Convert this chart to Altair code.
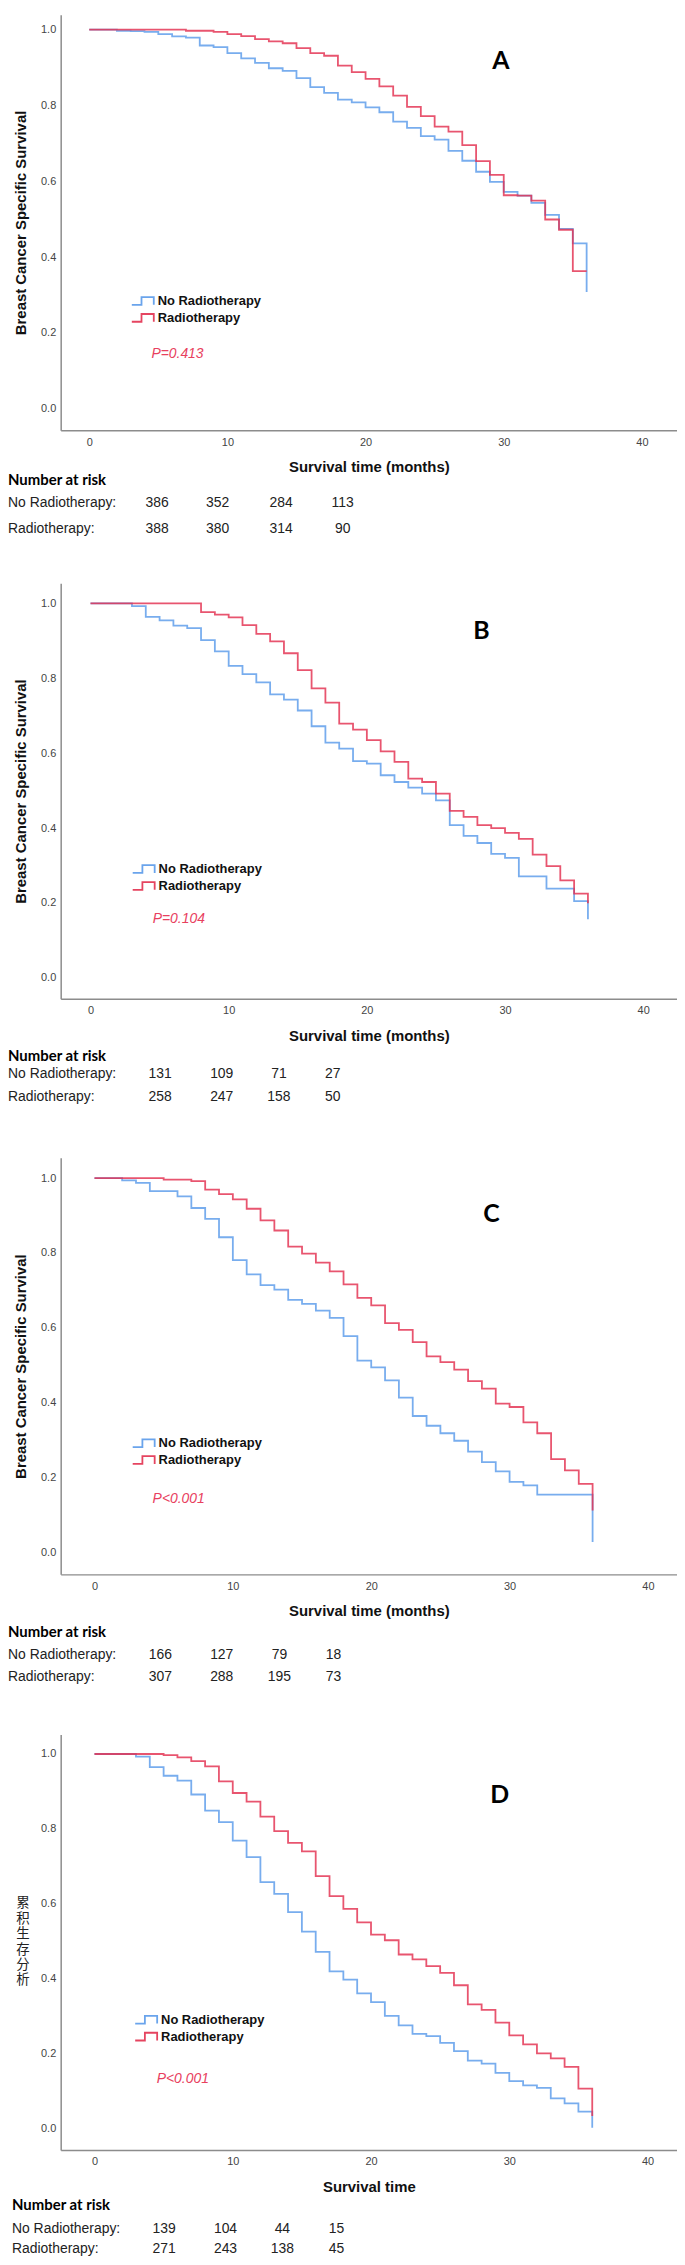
import altair as alt
import pandas as pd

# ---------------- data ----------------
months = list(range(37))  # step values hold from month t to t+1
GROUPS = ["No Radiotherapy", "Radiotherapy"]

A_no = [1.000, 1.000, 0.997, 0.996, 0.994, 0.988, 0.982, 0.979, 0.958, 0.954, 0.938, 0.924,
        0.912, 0.898, 0.891, 0.872, 0.848, 0.833, 0.815, 0.808, 0.795, 0.782, 0.757, 0.741,
        0.719, 0.710, 0.680, 0.654, 0.625, 0.598, 0.572, 0.562, 0.543, 0.511, 0.474, 0.436, 0.308]
A_rt = [1.000, 1.000, 1.000, 1.000, 1.000, 1.000, 1.000, 0.997, 0.997, 0.994, 0.988, 0.983,
        0.975, 0.969, 0.964, 0.951, 0.938, 0.931, 0.905, 0.888, 0.870, 0.850, 0.826, 0.796,
        0.772, 0.744, 0.731, 0.695, 0.653, 0.617, 0.563, 0.562, 0.549, 0.499, 0.472, 0.363, 0.363]
B_no = [1.000, 1.000, 1.000, 0.993, 0.964, 0.955, 0.941, 0.934, 0.902, 0.872, 0.833, 0.811,
        0.789, 0.757, 0.743, 0.714, 0.672, 0.628, 0.612, 0.579, 0.572, 0.541, 0.523, 0.508,
        0.492, 0.474, 0.408, 0.379, 0.360, 0.331, 0.320, 0.271, 0.271, 0.238, 0.238, 0.205, 0.156]
B_rt = [1.000, 1.000, 1.000, 1.000, 1.000, 1.000, 1.000, 1.000, 0.977, 0.970, 0.963, 0.942,
        0.919, 0.899, 0.867, 0.822, 0.773, 0.735, 0.679, 0.663, 0.635, 0.605, 0.577, 0.532,
        0.523, 0.492, 0.446, 0.430, 0.408, 0.400, 0.387, 0.371, 0.329, 0.298, 0.260, 0.225, 0.199]
C_no = [1.000, 1.000, 0.994, 0.987, 0.965, 0.965, 0.951, 0.920, 0.891, 0.842, 0.781, 0.743,
        0.714, 0.702, 0.675, 0.664, 0.646, 0.627, 0.578, 0.513, 0.495, 0.460, 0.414, 0.365,
        0.339, 0.319, 0.299, 0.270, 0.242, 0.217, 0.189, 0.180, 0.155, 0.155, 0.155, 0.155, 0.029]
C_rt = [1.000, 1.000, 1.000, 1.000, 1.000, 0.996, 0.996, 0.992, 0.969, 0.957, 0.943, 0.918,
        0.887, 0.860, 0.817, 0.798, 0.774, 0.751, 0.716, 0.680, 0.660, 0.613, 0.595, 0.562,
        0.524, 0.509, 0.489, 0.458, 0.438, 0.398, 0.389, 0.348, 0.319, 0.250, 0.220, 0.184, 0.113]
D_no = [1.000, 1.000, 1.000, 0.993, 0.965, 0.942, 0.929, 0.892, 0.849, 0.818, 0.769, 0.725,
        0.658, 0.627, 0.578, 0.526, 0.472, 0.420, 0.398, 0.361, 0.338, 0.301, 0.276, 0.253,
        0.247, 0.229, 0.207, 0.182, 0.174, 0.149, 0.127, 0.116, 0.109, 0.081, 0.068, 0.046, 0.003]
D_rt = [1.000, 1.000, 1.000, 1.000, 1.000, 0.997, 0.991, 0.981, 0.967, 0.927, 0.896, 0.873,
        0.833, 0.794, 0.763, 0.740, 0.674, 0.621, 0.587, 0.551, 0.518, 0.503, 0.465, 0.452,
        0.434, 0.416, 0.383, 0.332, 0.317, 0.283, 0.249, 0.225, 0.201, 0.188, 0.165, 0.107, 0.034]

risk_A_no, risk_A_rt = [386, 352, 284, 113], [388, 380, 314, 90]
risk_B_no, risk_B_rt = [131, 109, 71, 27], [258, 247, 158, 50]
risk_C_no, risk_C_rt = [166, 127, 79, 18], [307, 288, 195, 73]
risk_D_no, risk_D_rt = [139, 104, 44, 15], [271, 243, 138, 45]

p_labels = ["P=0.413", "P=0.104", "P<0.001", "P<0.001"]
letters = ["A", "B", "C", "D"]
y_titles = ["Breast Cancer Specific Survival", "Breast Cancer Specific Survival",
            "Breast Cancer Specific Survival", ["累", "积", "生", "存", "分", "析"]]
x_titles = ["Survival time (months)", "Survival time (months)",
            "Survival time (months)", "Survival time"]
row_labels = ["Number at risk", "No Radiotherapy:", "Radiotherapy:"]

for s in (A_no, A_rt, B_no, B_rt, C_no, C_rt, D_no, D_rt):
    assert len(s) == len(months)

# ---------------- styling / layout ----------------
FONT = "Liberation Sans, Arial, Helvetica, sans-serif"
HEAD_FONT = "Lato, Open Sans, sans-serif"
CJK_FONT = "Liberation Sans, Noto Sans CJK SC, sans-serif"
BLUE = "#5A9BEA"
RED = "#E3304F"
W = 620
LEG_PATH = "M-1.7,0.6H-0.2V-0.6H1.7V0.6"

layout = [
    dict(no=A_no, rt=A_rt, rno=risk_A_no, rrt=risk_A_rt, h=418,
         xdom=[-2.065, 42.54], ydom=[-0.0569, 1.0393],
         letter_pos=(29.8, 0.917), p_pos=(4.5, 0.145), leg=(75.1, 280.5),
         tab_h=154, tab_x=[96.9, 157.9, 221.7, 283.7], tab_y=[50.0, 73.5, 99.5], lab_x=-53),
    dict(no=B_no, rt=B_rt, rno=risk_B_no, rrt=risk_B_rt, h=418,
         xdom=[-2.158, 42.446], ydom=[-0.0563, 1.0539],
         letter_pos=(28.3, 0.926), p_pos=(4.5, 0.156), leg=(76.0, 280.0),
         tab_h=160, tab_x=[100.0, 162.0, 219.5, 273.7], tab_y=[58.0, 76.0, 99.0], lab_x=-53),
    dict(no=C_no, rt=C_rt, rno=risk_C_no, rrt=risk_C_rt, h=419,
         xdom=[-2.443, 42.10], ydom=[-0.0576, 1.0538],
         letter_pos=(28.7, 0.905), p_pos=(4.2, 0.144), leg=(76.0, 279.5),
         tab_h=161, tab_x=[100.3, 162.0, 220.0, 274.5], tab_y=[58.5, 81.0, 103.0], lab_x=-53),
    dict(no=D_no, rt=D_rt, rno=risk_D_no, rrt=risk_D_rt, h=418,
         xdom=[-2.444, 42.13], ydom=[-0.0565, 1.0523],
         letter_pos=(29.3, 0.890), p_pos=(4.5, 0.134), leg=(78.5, 279.5),
         tab_h=95, tab_x=[104.1, 165.8, 223.0, 277.4], tab_y=[55.5, 79.5, 99.5], lab_x=-49,
         title_top=163),
]


def km_chart(i, cfg):
    df = pd.DataFrame({
        "t": months + months,
        "s": cfg["no"] + cfg["rt"],
        "grp": [GROUPS[0]] * len(months) + [GROUPS[1]] * len(months),
    })
    cjk = isinstance(y_titles[i], list)
    xaxis = alt.Axis(values=[0, 10, 20, 30, 40], title=x_titles[i], ticks=False, grid=False,
                     labelFont=FONT, labelFontSize=11, labelColor="#444", labelPadding=6,
                     labelFlush=False, titleFont=FONT, titleFontSize=15, titleFontWeight="bold",
                     titleColor="#111", titlePadding=12.5, domainColor="#8c8c8c", domainWidth=1.5)
    yaxis = alt.Axis(values=[0, 0.2, 0.4, 0.6, 0.8, 1.0], format=".1f",
                     title=None if cjk else y_titles[i],
                     ticks=False, grid=False, labelFont=FONT, labelFontSize=11,
                     labelColor="#444", labelPadding=5, titleFont=FONT, titleFontSize=15,
                     titleFontWeight="bold", titleColor="#111", titlePadding=12,
                     domainColor="#8c8c8c", domainWidth=1.5)
    X = alt.X("t:Q", scale=alt.Scale(domain=cfg["xdom"], nice=False, zero=False), axis=xaxis)
    Y = alt.Y("s:Q", scale=alt.Scale(domain=cfg["ydom"], nice=False, zero=False), axis=yaxis)

    legend = alt.Legend(title=None, orient="none", legendX=cfg["leg"][0], legendY=cfg["leg"][1],
                        symbolType=LEG_PATH, symbolSize=169, symbolStrokeWidth=1.8,
                        symbolFillColor="transparent", symbolOpacity=0.9,
                        labelFont=FONT, labelFontSize=13, labelFontWeight="bold",
                        labelColor="#111", labelOffset=7.5, rowPadding=2, padding=0)
    lines = alt.Chart(df).mark_line(interpolate="step-after", strokeWidth=1.8, opacity=0.82).encode(
        x=X, y=Y,
        color=alt.Color("grp:N", scale=alt.Scale(domain=GROUPS, range=[BLUE, RED]), legend=legend),
    )
    let_df = pd.DataFrame({"t": [cfg["letter_pos"][0]], "s": [cfg["letter_pos"][1]],
                           "label": [letters[i]]})
    letter = alt.Chart(let_df).mark_text(font=HEAD_FONT, fontSize=25, fontWeight="bold",
                                         color="#000", align="center", baseline="middle").encode(
        x=X, y=Y, text="label:N")
    p_df = pd.DataFrame({"t": [cfg["p_pos"][0]], "s": [cfg["p_pos"][1]], "label": [p_labels[i]]})
    ptxt = alt.Chart(p_df).mark_text(font=FONT, fontSize=14, fontStyle="italic", color="#E8405E",
                                     align="left", baseline="middle").encode(
        x=X, y=Y, text="label:N")
    layers = [lines, letter, ptxt]
    if cjk:
        t_df = pd.DataFrame({"label": ["\n".join(y_titles[i])]})
        ttl = alt.Chart(t_df).mark_text(font=CJK_FONT, fontSize=13.5, lineHeight=15.5,
                                        lineBreak="\n", color="#222", align="center",
                                        baseline="top").encode(
            x=alt.value(-38), y=alt.value(cfg["title_top"]), text="label:N")
        layers.append(ttl)
    return alt.layer(*layers).properties(width=W, height=cfg["h"])


def risk_chart(cfg):
    num_df = pd.DataFrame({
        "col": [1, 2, 3, 4, 1, 2, 3, 4],
        "row": [1, 1, 1, 1, 2, 2, 2, 2],
        "txt": [str(v) for v in cfg["rno"] + cfg["rrt"]],
    })
    head_df = pd.DataFrame({"row": [0], "txt": [row_labels[0]]})
    lab_df = pd.DataFrame({"row": [1, 2], "txt": row_labels[1:]})
    ysc = alt.Scale(domain=[0, 1, 2], range=cfg["tab_y"])
    nums = alt.Chart(num_df).mark_text(font=FONT, fontSize=14, color="#222", align="center",
                                       baseline="middle").encode(
        x=alt.X("col:Q", scale=alt.Scale(domain=[1, 2, 3, 4], range=cfg["tab_x"]), axis=None),
        y=alt.Y("row:Q", scale=ysc, axis=None),
        text="txt:N")
    head = alt.Chart(head_df).mark_text(font=HEAD_FONT, fontSize=15, fontWeight="bold",
                                        color="#000", align="left", baseline="middle").encode(
        x=alt.value(cfg["lab_x"]), y=alt.Y("row:Q", scale=ysc, axis=None), text="txt:N")
    labs = alt.Chart(lab_df).mark_text(font=FONT, fontSize=14, color="#222", align="left",
                                       baseline="middle").encode(
        x=alt.value(cfg["lab_x"]), y=alt.Y("row:Q", scale=ysc, axis=None), text="txt:N")
    return alt.layer(nums, head, labs).properties(width=W, height=cfg["tab_h"])


parts = []
for i, cfg in enumerate(layout):
    parts.append(km_chart(i, cfg))
    parts.append(risk_chart(cfg))

chart = alt.vconcat(*parts, spacing=0, bounds="flush").resolve_scale(
    color="independent").resolve_legend(color="independent").properties(
    padding=0, background="white").configure_view(stroke=None)

chart.save("out.html", embed_options={"renderer": "svg", "actions": False})
